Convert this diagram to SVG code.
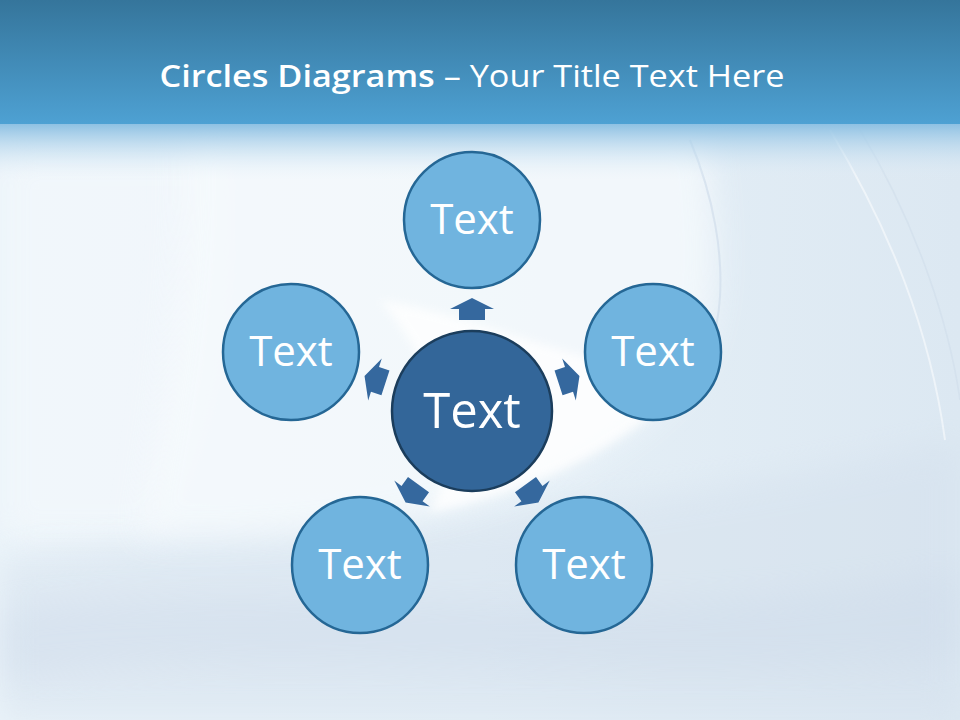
<svg xmlns="http://www.w3.org/2000/svg" width="960" height="720" viewBox="0 0 960 720">
  <style>
    .outer { fill: #70b4df; stroke: #256795; stroke-width: 2.5; }
    .center { fill: #336699; stroke: #1b3d5c; stroke-width: 2.5; }
    .lbl { font-family: "Open Sans", "Noto Sans", sans-serif; fill: #ffffff; text-anchor: middle; }
    .arrow { fill: #35689e; }
  </style>
  <defs>
    <linearGradient id="band" x1="0" y1="0" x2="0" y2="1">
      <stop offset="0" stop-color="#35759b"/>
      <stop offset="1" stop-color="#4ea1d3"/>
    </linearGradient>
    <linearGradient id="fade" x1="0" y1="0" x2="0" y2="1">
      <stop offset="0" stop-color="#8ec1e3" stop-opacity="1"/>
      <stop offset="1" stop-color="#e6f0f8" stop-opacity="0"/>
    </linearGradient>
    <linearGradient id="bg" x1="0" y1="0" x2="1" y2="0">
      <stop offset="0" stop-color="#eaf3f9"/>
      <stop offset="0.5" stop-color="#e6f0f7"/>
      <stop offset="1" stop-color="#dce8f2"/>
    </linearGradient>
    <filter id="blur" x="-20%" y="-20%" width="140%" height="140%">
      <feGaussianBlur stdDeviation="5"/>
    </filter>
    <filter id="blur2" x="-20%" y="-20%" width="140%" height="140%">
      <feGaussianBlur stdDeviation="16"/>
    </filter>
    <path id="arr" d="M91,-13 L102,-13 L102,-22 L113,0 L102,22 L102,13 L91,13 Z"/>
  </defs>

  <!-- background -->
  <rect x="0" y="0" width="960" height="720" fill="url(#bg)"/>
  <path d="M0,150 L230,150 C240,300 220,430 160,540 L0,540 Z" fill="#f3f8fc" opacity="0.8" filter="url(#blur2)"/>
  <path d="M0,560 C250,520 520,540 960,440 L960,720 L0,720 Z" fill="#d3dfec" opacity="0.45" filter="url(#blur2)"/>
  <path d="M0,610 C300,570 600,640 960,570 L960,660 C600,690 300,640 0,680 Z" fill="#c9d7e8" opacity="0.3" filter="url(#blur2)"/>
  <path d="M180,130 L705,130 C720,240 722,320 690,370 C640,440 540,490 420,515 C320,535 220,540 140,535 C160,420 190,260 180,130 Z" fill="#f6fafd" opacity="0.8" filter="url(#blur2)"/>
  <path d="M380,300 C500,320 600,380 700,368 C640,440 540,490 430,512 C470,440 430,360 380,300 Z" fill="#ffffff" opacity="0.8" filter="url(#blur)"/>
  <path d="M690,140 C740,260 720,360 690,372" fill="none" stroke="#cddbea" stroke-width="2" opacity="0.6"/>
  <path d="M830,130 C890,230 930,330 945,440" fill="none" stroke="#ffffff" stroke-width="2" opacity="0.5"/>
  <path d="M860,130 C920,230 950,330 960,400" fill="none" stroke="#cddbea" stroke-width="1.5" opacity="0.5"/>

  <!-- title band -->
  <rect x="0" y="0" width="960" height="124" fill="url(#band)"/>
  <rect x="0" y="124" width="960" height="56" fill="url(#fade)"/>
  <text x="472" y="87" font-family="Open Sans, Noto Sans, sans-serif" font-size="31" fill="#ffffff" text-anchor="middle" textLength="625" lengthAdjust="spacingAndGlyphs"><tspan font-weight="600">Circles Diagrams</tspan> – Your Title Text Here</text>

  <!-- connectors -->
  <g id="connectors">
    <use href="#arr" class="arrow" transform="translate(472,411) rotate(-90)"/>
    <use href="#arr" class="arrow" transform="translate(472,411) rotate(-18)"/>
    <use href="#arr" class="arrow" transform="translate(472,411) rotate(-162)"/>
    <use href="#arr" class="arrow" transform="translate(472,411) rotate(54)"/>
    <use href="#arr" class="arrow" transform="translate(472,411) rotate(126)"/>
  </g>

  <!-- nodes -->
  <g id="node-top">
    <circle class="outer" cx="472" cy="220" r="68"/>
    <text class="lbl" x="472" y="234" font-size="42">Text</text>
  </g>
  <g id="node-right">
    <circle class="outer" cx="653" cy="352" r="68"/>
    <text class="lbl" x="653" y="366" font-size="42">Text</text>
  </g>
  <g id="node-left">
    <circle class="outer" cx="291" cy="352" r="68"/>
    <text class="lbl" x="291" y="366" font-size="42">Text</text>
  </g>
  <g id="node-bottom-right">
    <circle class="outer" cx="584" cy="565" r="68"/>
    <text class="lbl" x="584" y="579" font-size="42">Text</text>
  </g>
  <g id="node-bottom-left">
    <circle class="outer" cx="360" cy="565" r="68"/>
    <text class="lbl" x="360" y="579" font-size="42">Text</text>
  </g>
  <g id="node-center">
    <circle class="center" cx="472" cy="411" r="80"/>
    <text class="lbl" x="472" y="428" font-size="49">Text</text>
  </g>
</svg>
